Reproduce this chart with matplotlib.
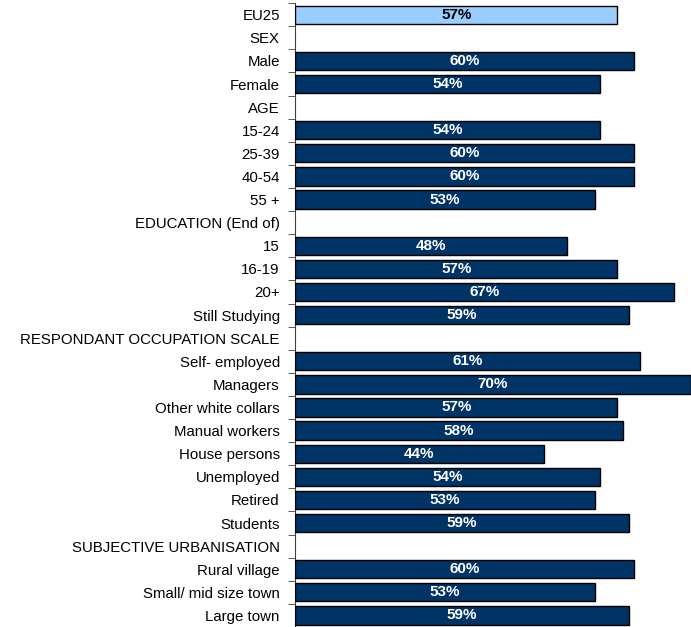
import numpy as np
import matplotlib.pyplot as plt

plt.rcParams['font.family'] = ['Liberation Sans', 'DejaVu Sans']

# categories (top to bottom) and values; None = section heading row
categories = [
    'EU25', 'SEX', 'Male', 'Female', 'AGE', '15-24', '25-39', '40-54', '55 +',
    'EDUCATION (End of)', '15', '16-19', '20+', 'Still Studying',
    'RESPONDANT OCCUPATION SCALE', 'Self- employed', 'Managers',
    'Other white collars', 'Manual workers', 'House persons', 'Unemployed',
    'Retired', 'Students', 'SUBJECTIVE URBANISATION', 'Rural village',
    'Small/ mid size town', 'Large town',
]
values = [
    57, None, 60, 54, None, 54, 60, 60, 53,
    None, 48, 57, 67, 59,
    None, 61, 70, 57, 58, 44, 54, 53, 59,
    None, 60, 53, 59,
]

navy = '#003366'
light = '#99CCFF'

fig = plt.figure(figsize=(6.91, 6.27), dpi=100)
ax = fig.add_axes([0.427, 0.0, 0.573, 0.995])

n = len(categories)
ypos = np.arange(n)
for i, v in enumerate(values):
    if v is None:
        continue
    col = light if i == 0 else navy
    ax.barh(i, v, height=0.79, color=col, edgecolor='black', linewidth=1.0,
            zorder=3)
    tcol = 'black' if i == 0 else 'white'
    ax.text(v / 2, i, f'{v}%', ha='center', va='center', color=tcol,
            fontsize=11, fontweight='bold', zorder=4)

ax.set_xlim(0, 70)
ax.set_ylim(n - 0.5, -0.5)
ax.set_yticks(ypos)
ax.set_yticklabels(categories, fontsize=10.8)
ax.set_yticks(np.arange(n + 1) - 0.5, minor=True)
ax.tick_params(axis='y', which='major', length=0, pad=11)
ax.tick_params(axis='y', which='minor', length=5, color='#404040')
ax.set_xticks([])
for s in ['top', 'right', 'bottom']:
    ax.spines[s].set_visible(False)
ax.spines['left'].set_color('#404040')

fig.savefig('out.png', dpi=100)
